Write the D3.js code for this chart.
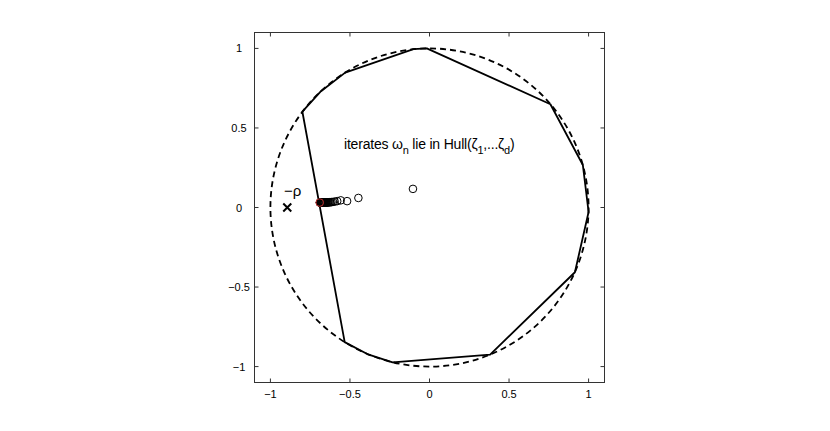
<!DOCTYPE html>
<html>
<head>
<meta charset="utf-8">
<script src="https://cdn.jsdelivr.net/npm/d3@7"></script>
<style>
  body { margin: 0; background: #fff; }
  text { font-family: "Liberation Sans", Arial, Helvetica, sans-serif; }
</style>
</head>
<body>
<div id="main-canvas"></div>
<script>
// data
// hull vertices zeta_k (on unit circle), counter-clockwise
let hullX = [1.000, 0.964, 0.760, -0.017, -0.101, -0.530, -0.682, -0.799, -0.533, -0.391, -0.232, 0.381, 0.914];
let hullY = [-0.028, 0.267, 0.649, 1.000, 0.995, 0.848, 0.731, 0.602, -0.846, -0.921, -0.973, -0.925, -0.407];

// iterates omega_n
let iterX = [-0.104, -0.447, -0.518, -0.558, -0.580, -0.596, -0.607, -0.616, -0.623, -0.629, -0.634, -0.639, -0.643,
    -0.647, -0.650, -0.653, -0.656, -0.659, -0.661, -0.663, -0.665, -0.667, -0.669, -0.671, -0.673, -0.675, -0.677,
    -0.679, -0.681, -0.683, -0.685, -0.686, -0.687, -0.688, -0.689, -0.690];
let iterY = [0.117, 0.060, 0.040, 0.045, 0.040, 0.037, 0.035, 0.034, 0.033, 0.033, 0.032, 0.032, 0.032,
    0.031, 0.031, 0.031, 0.031, 0.031, 0.031, 0.031, 0.031, 0.031, 0.031, 0.031, 0.031, 0.031, 0.031,
    0.031, 0.031, 0.031, 0.031, 0.031, 0.031, 0.031, 0.031, 0.031];

let rho = 0.894;
let tickVals = [-1, -0.5, 0, 0.5, 1];
let tickLabels = ["\u22121", "\u22120.5", "0", "0.5", "1"];

let width = 830, height = 431;

let svg = d3.select("#main-canvas").append("svg")
    .attr("width", width)
    .attr("height", height)

svg.append("rect").attr("width", width).attr("height", height).attr("fill", "#fff")

let x = d3.scaleLinear().domain([-1.1, 1.1]).range([254.5, 604.5]);
let y = d3.scaleLinear().domain([-1.1, 1.1]).range([382.5, 32.5]);

// frame box
svg.append("rect")
    .attr("x", x(-1.1)).attr("y", y(1.1))
    .attr("width", x(1.1) - x(-1.1)).attr("height", y(-1.1) - y(1.1))
    .attr("fill", "none").attr("stroke", "#333").attr("stroke-width", 1)

// ticks pointing inward on all four sides
let tl = 4;
let ticks = svg.append("g").attr("stroke", "#333").attr("stroke-width", 1)
tickVals.forEach(v => {
    ticks.append("line").attr("x1", x(v)).attr("x2", x(v)).attr("y1", y(-1.1)).attr("y2", y(-1.1) - tl)
    ticks.append("line").attr("x1", x(v)).attr("x2", x(v)).attr("y1", y(1.1)).attr("y2", y(1.1) + tl)
    ticks.append("line").attr("y1", y(v)).attr("y2", y(v)).attr("x1", x(-1.1)).attr("x2", x(-1.1) + tl)
    ticks.append("line").attr("y1", y(v)).attr("y2", y(v)).attr("x1", x(1.1)).attr("x2", x(1.1) - tl)
})

// tick labels
svg.append("g").selectAll("text")
    .data(tickVals)
    .enter().append("text")
    .attr("x", d => x(d))
    .attr("y", y(-1.1) + 15)
    .attr("text-anchor", "middle")
    .attr("font-size", 11)
    .text((d, i) => tickLabels[i])

svg.append("g").selectAll("text")
    .data(tickVals)
    .enter().append("text")
    .attr("x", 239)
    .attr("y", d => y(d) + 4)
    .attr("text-anchor", "middle")
    .attr("font-size", 11)
    .text((d, i) => tickLabels[i])

// dashed unit circle
svg.append("ellipse")
    .attr("cx", x(0)).attr("cy", y(0))
    .attr("rx", x(1) - x(0)).attr("ry", y(0) - y(1))
    .attr("fill", "none").attr("stroke", "#000")
    .attr("stroke-width", 1.8).attr("stroke-dasharray", "6,4")

// convex hull polygon
let hullPts = hullX.map((v, i) => [x(v), y(hullY[i])]);
svg.append("polygon")
    .attr("points", hullPts.map(p => p.join(",")).join(" "))
    .attr("fill", "none").attr("stroke", "#000")
    .attr("stroke-width", 1.8).attr("stroke-linejoin", "round")

// iterates
let iters = iterX.map((v, i) => ({ x: v, y: iterY[i], last: i === iterX.length - 1 }));
svg.append("g").selectAll("circle")
    .data(iters)
    .enter().append("circle")
    .attr("cx", d => x(d.x))
    .attr("cy", d => y(d.y))
    .attr("r", 3.8)
    .attr("fill", "none")
    .attr("stroke", d => d.last ? "#c03030" : "#000")
    .attr("stroke-width", 1)

// -rho marker
let mx = x(-rho), my = y(0), ms = 4;
svg.append("path")
    .attr("d", `M${mx - ms},${my - ms}L${mx + ms},${my + ms}M${mx - ms},${my + ms}L${mx + ms},${my - ms}`)
    .attr("stroke", "#000").attr("stroke-width", 2)

svg.append("text")
    .attr("x", 284).attr("y", 196)
    .attr("font-size", 15)
    .text("\u2212\u03c1")

// annotation
let ann = svg.append("text")
    .attr("x", 344).attr("y", 149)
    .attr("font-size", 14)
    .attr("letter-spacing", -0.2)
ann.append("tspan").text("iterates \u03c9")
ann.append("tspan").attr("font-size", 11).attr("dy", 5).text("n")
ann.append("tspan").attr("dy", -5).text(" lie in Hull(\u03b6")
ann.append("tspan").attr("font-size", 11).attr("dy", 5).text("1")
ann.append("tspan").attr("dy", -5).text(",...\u03b6")
ann.append("tspan").attr("font-size", 11).attr("dy", 5).text("d")
ann.append("tspan").attr("dy", -5).text(")")
</script>
</body>
</html>
